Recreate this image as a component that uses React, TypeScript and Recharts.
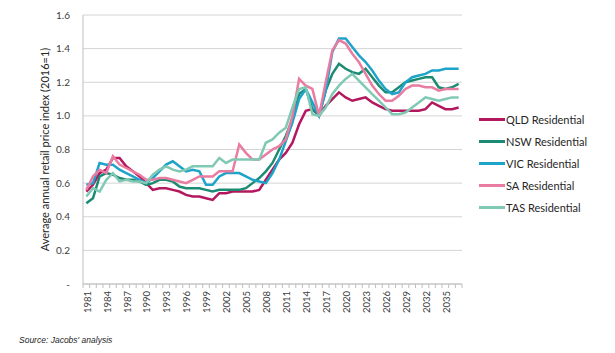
import React from "react";
import { LineChart, Line, XAxis, YAxis, CartesianGrid } from "recharts";

const years = [
  1981, 1982, 1983, 1984, 1985, 1986, 1987, 1988, 1989, 1990,
  1991, 1992, 1993, 1994, 1995, 1996, 1997, 1998, 1999, 2000,
  2001, 2002, 2003, 2004, 2005, 2006, 2007, 2008, 2009, 2010,
  2011, 2012, 2013, 2014, 2015, 2016, 2017, 2018, 2019, 2020,
  2021, 2022, 2023, 2024, 2025, 2026, 2027, 2028, 2029, 2030,
  2031, 2032, 2033, 2034, 2035, 2036, 2037,
];

const qld = [
  0.55, 0.59, 0.66, 0.68, 0.75, 0.75, 0.7, 0.67, 0.64, 0.6,
  0.56, 0.57, 0.57, 0.56, 0.55, 0.53, 0.52, 0.52, 0.51, 0.5,
  0.54, 0.54, 0.55, 0.55, 0.55, 0.55, 0.56, 0.62, 0.68, 0.74,
  0.78, 0.84, 0.95, 1.03, 1.04, 1.0, 1.06, 1.1, 1.14, 1.11,
  1.09, 1.1, 1.11, 1.08, 1.06, 1.04, 1.03, 1.03, 1.03, 1.03,
  1.03, 1.04, 1.08, 1.06, 1.04, 1.04, 1.05,
];
const nsw = [
  0.48, 0.51, 0.64, 0.66, 0.65, 0.63, 0.62, 0.62, 0.61, 0.59,
  0.6, 0.62, 0.62, 0.61, 0.58, 0.57, 0.57, 0.57, 0.56, 0.55,
  0.56, 0.56, 0.56, 0.56, 0.57, 0.6, 0.63, 0.67, 0.72, 0.8,
  0.88, 0.98, 1.13, 1.16, 1.04, 1.0, 1.15, 1.25, 1.31, 1.28,
  1.26, 1.25, 1.28, 1.23, 1.18, 1.14, 1.14, 1.17, 1.2, 1.21,
  1.22, 1.23, 1.23, 1.17, 1.16, 1.17, 1.19,
];
const vic = [
  0.59, 0.6, 0.72, 0.71, 0.71, 0.68, 0.66, 0.64, 0.62, 0.6,
  0.63, 0.67, 0.71, 0.73, 0.7, 0.67, 0.68, 0.67, 0.59, 0.59,
  0.64, 0.66, 0.66, 0.66, 0.64, 0.62, 0.61, 0.6, 0.66, 0.74,
  0.85, 0.96, 1.1, 1.16, 1.08, 1.0, 1.15, 1.38, 1.46, 1.46,
  1.41, 1.36, 1.32, 1.27, 1.21, 1.16, 1.13, 1.14, 1.2, 1.23,
  1.24, 1.25, 1.27, 1.27, 1.28, 1.28, 1.28,
];
const sa = [
  0.56, 0.64, 0.68, 0.66, 0.76, 0.71, 0.69, 0.67, 0.65, 0.62,
  0.62, 0.63, 0.63, 0.62, 0.61, 0.6, 0.62, 0.64, 0.64, 0.64,
  0.67, 0.67, 0.67, 0.83, 0.78, 0.74, 0.74, 0.77, 0.8, 0.82,
  0.86, 1.0, 1.22, 1.18, 1.16, 1.0, 1.2, 1.39, 1.45, 1.43,
  1.37, 1.32, 1.25, 1.18, 1.13, 1.09, 1.09, 1.12, 1.16, 1.18,
  1.18, 1.17, 1.17, 1.15, 1.16, 1.16, 1.16,
];
const tas = [
  0.52, 0.57, 0.55, 0.62, 0.66, 0.61, 0.62, 0.61, 0.61, 0.6,
  0.65, 0.68, 0.7, 0.68, 0.67, 0.68, 0.7, 0.7, 0.7, 0.7,
  0.75, 0.72, 0.74, 0.74, 0.74, 0.74, 0.74, 0.84, 0.86, 0.9,
  0.93, 1.05, 1.16, 1.17, 1.01, 1.0, 1.05, 1.13, 1.18, 1.22,
  1.25, 1.21, 1.17, 1.13, 1.09, 1.05, 1.01, 1.01, 1.02, 1.05,
  1.08, 1.11, 1.1, 1.09, 1.1, 1.11, 1.11,
];

const yTicks = [0, 0.2, 0.4, 0.6, 0.8, 1.0, 1.2, 1.4, 1.6];

const series = [
  { key: "qld", name: "QLD Residential", color: "#b3185f", values: qld },
  { key: "nsw", name: "NSW Residential", color: "#1d8b73", values: nsw },
  { key: "vic", name: "VIC Residential", color: "#1ea3c9", values: vic },
  { key: "sa", name: "SA Residential", color: "#ea7ba1", values: sa },
  { key: "tas", name: "TAS Residential", color: "#80c9b4", values: tas },
];

const data = years.map((year, i) => {
  const row: Record<string, number> = { year };
  series.forEach((s) => {
    row[s.key] = s.values[i];
  });
  return row;
});

const font = "Lato, 'Open Sans', sans-serif";

// excel style: small ticks on category boundaries, label every 3rd year
function YearTick(props: any) {
  const { x, y, payload, index } = props;
  const half = payload && payload.offset ? payload.offset : 3.3;
  const last = index === years.length - 1;
  return (
    <g>
      <line x1={x - half} x2={x - half} y1={y} y2={y + 4} stroke="#bfbfbf" />
      {last && <line x1={x + half} x2={x + half} y1={y} y2={y + 4} stroke="#bfbfbf" />}
      {index % 3 === 0 && (
        <text
          x={0}
          y={0}
          dy="0.35em"
          textAnchor="end"
          transform={`translate(${x + 1},${y + 7}) rotate(-90)`}
          fontSize={9.5}
          fontFamily={font}
          fill="#404040"
        >
          {payload.value}
        </text>
      )}
    </g>
  );
}

export default function App() {
  return (
    <div style={{ position: "absolute", left: 0, top: 0, width: 615, height: 353, fontFamily: font }}>
      <LineChart
        width={615}
        height={353}
        data={data}
        margin={{ top: 15, right: 153, bottom: 19, left: 30 }}
      >
        <CartesianGrid vertical={false} stroke="#d4d4d4" />
        <XAxis
          dataKey="year"
          scale="band"
          interval={0}
          height={50}
          tickSize={0}
          tickMargin={0}
          tickLine={false}
          axisLine={{ stroke: "#bfbfbf" }}
          tick={<YearTick />}
        />
        <YAxis
          width={53}
          domain={[0, 1.6]}
          ticks={yTicks}
          interval={0}
          tickLine={false}
          tickSize={6}
          tickMargin={7}
          axisLine={{ stroke: "#bfbfbf" }}
          tickFormatter={(v: number) => (v === 0 ? "-" : v.toFixed(1))}
          tick={{ fontSize: 10, fill: "#404040", fontFamily: font }}
          label={{
            value: "Average annual retail price index (2016=1)",
            angle: -90,
            position: "insideLeft",
            offset: 15,
            style: { textAnchor: "middle", fontSize: 11, fill: "#262626", fontFamily: font },
          }}
        />
        {series.map((s) => (
          <Line
            key={s.key}
            type="linear"
            dataKey={s.key}
            name={s.name}
            stroke={s.color}
            strokeWidth={2.5}
            dot={false}
            activeDot={false}
            isAnimationActive={false}
          />
        ))}
      </LineChart>

      <div style={{ position: "absolute", left: 479, top: 109 }}>
        {series.map((s) => (
          <div key={s.key} style={{ display: "flex", alignItems: "center", height: 21.8 }}>
            <span style={{ display: "inline-block", width: 26, height: 3, background: s.color }} />
            <span style={{ fontSize: 11, color: "#262626", marginLeft: 1 }}>{s.name}</span>
          </div>
        ))}
      </div>

      <div
        style={{
          position: "absolute",
          left: 19,
          top: 335,
          fontSize: 8.5,
          fontStyle: "italic",
          fontFamily: "'Liberation Sans', Arial, sans-serif",
          color: "#262626",
        }}
      >
        Source: Jacobs' analysis
      </div>
    </div>
  );
}
